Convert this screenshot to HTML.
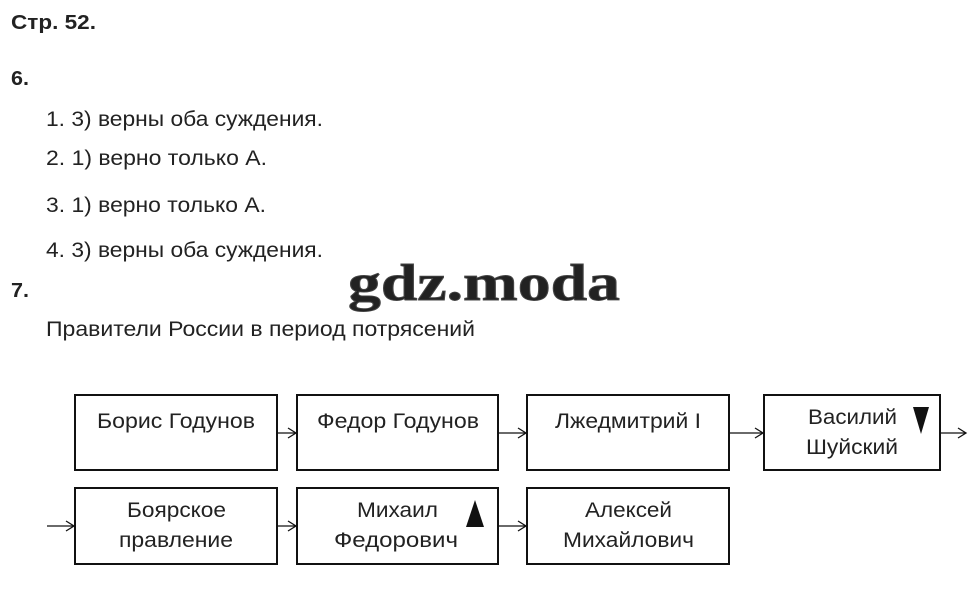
<!DOCTYPE html>
<html><head><meta charset="utf-8"><style>
html,body{margin:0;padding:0;background:#fff;width:973px;height:612px;overflow:hidden}
svg{display:block}
text{font-family:"Liberation Sans",Arial,sans-serif;fill:#222}
</style></head><body>
<svg width="973" height="612" viewBox="0 0 973 612" xmlns="http://www.w3.org/2000/svg">
<text x="11" y="29" font-size="20" font-weight="bold" fill="#111" textLength="85" lengthAdjust="spacingAndGlyphs">Стр. 52.</text>
<text x="11" y="85" font-size="20" font-weight="bold" fill="#111" textLength="18" lengthAdjust="spacingAndGlyphs">6.</text>
<text x="46" y="126" font-size="21" textLength="277" lengthAdjust="spacingAndGlyphs">1. 3) верны оба суждения.</text>
<text x="46" y="165" font-size="21" textLength="221" lengthAdjust="spacingAndGlyphs">2. 1) верно только А.</text>
<text x="46" y="212" font-size="21" textLength="220" lengthAdjust="spacingAndGlyphs">3. 1) верно только А.</text>
<text x="46" y="257" font-size="21" textLength="277" lengthAdjust="spacingAndGlyphs">4. 3) верны оба суждения.</text>
<text x="11" y="297" font-size="20" font-weight="bold" fill="#111" textLength="18" lengthAdjust="spacingAndGlyphs">7.</text>
<text x="46" y="336" font-size="21" textLength="429" lengthAdjust="spacingAndGlyphs">Правители России в период потрясений</text>
<text x="348" y="300" font-size="52" font-weight="bold" fill="#a0a0a0" stroke="#444" stroke-width="0.9" style="font-family:'Liberation Serif',serif" textLength="272" lengthAdjust="spacingAndGlyphs">gdz.moda</text>
<g fill="none" stroke="#111" stroke-width="2">
<rect x="75" y="395" width="202" height="75"/>
<rect x="297" y="395" width="201" height="75"/>
<rect x="527" y="395" width="202" height="75"/>
<rect x="764" y="395" width="176" height="75"/>
<rect x="75" y="488" width="202" height="76"/>
<rect x="297" y="488" width="201" height="76"/>
<rect x="527" y="488" width="202" height="76"/>
</g>
<g fill="none" stroke="#111" stroke-width="1.3">
<path d="M277 433H296M288 428L296 433L288 438"/>
<path d="M498 433H526M518 428L526 433L518 438"/>
<path d="M729 433H763M755 428L763 433L755 438"/>
<path d="M940 433H966M958 428L966 433L958 438"/>
<path d="M47 526H74M66 521L74 526L66 531"/>
<path d="M277 526H296M288 521L296 526L288 531"/>
<path d="M498 526H526M518 521L526 526L518 531"/>
</g>
<polygon points="913,407 929,407 921,434" fill="#111"/>
<polygon points="466,527 484,527 475,500" fill="#111"/>
<g font-size="21">
<text x="97" y="428" textLength="158" lengthAdjust="spacingAndGlyphs">Борис Годунов</text>
<text x="317" y="428" textLength="162" lengthAdjust="spacingAndGlyphs">Федор Годунов</text>
<text x="555" y="428" textLength="146" lengthAdjust="spacingAndGlyphs">Лжедмитрий I</text>
<text x="808" y="424" textLength="89" lengthAdjust="spacingAndGlyphs">Василий</text>
<text x="806" y="454" textLength="92" lengthAdjust="spacingAndGlyphs">Шуйский</text>
<text x="127" y="517" textLength="99" lengthAdjust="spacingAndGlyphs">Боярское</text>
<text x="119" y="547" textLength="114" lengthAdjust="spacingAndGlyphs">правление</text>
<text x="357" y="517" textLength="81" lengthAdjust="spacingAndGlyphs">Михаил</text>
<text x="334" y="547" textLength="124" lengthAdjust="spacingAndGlyphs">Федорович</text>
<text x="585" y="517" textLength="87" lengthAdjust="spacingAndGlyphs">Алексей</text>
<text x="563" y="547" textLength="131" lengthAdjust="spacingAndGlyphs">Михайлович</text>
</g>
</svg>
</body></html>
